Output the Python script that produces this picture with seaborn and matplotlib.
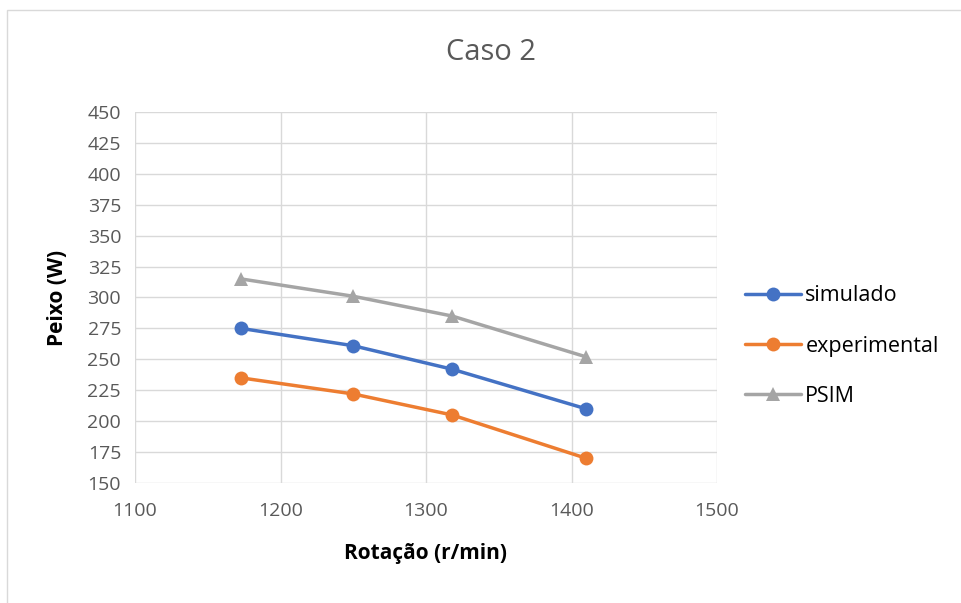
import matplotlib
matplotlib.use("Agg")
import matplotlib.pyplot as plt
import seaborn as sns
import pandas as pd
from matplotlib.patches import Rectangle

rotacao = [1173, 1250, 1318, 1410]
simulado = [275, 261, 242, 210]
experimental = [235, 222, 205, 170]
psim = [315, 301, 285, 252]
series_names = ["simulado", "experimental", "PSIM"]
colors = ["#4472C4", "#ED7D31", "#A5A5A5"]
x_ticks = [1100, 1200, 1300, 1400, 1500]
y_ticks = list(range(150, 451, 25))

sns.set_style("white")
plt.rcParams['font.family'] = ['Open Sans', 'DejaVu Sans']

df = pd.DataFrame({
    "x": rotacao * 3,
    "y": simulado + experimental + psim,
    "serie": [s for s in series_names for _ in rotacao],
})

fig = plt.figure(figsize=(9.62, 6.03), dpi=100)
fig.patches.append(Rectangle((7/962, -0.1), 1.0, 1 - 10/603 + 0.1, transform=fig.transFigure,
                             fill=False, edgecolor="#D9D9D9", linewidth=1))
ax = fig.add_axes([135/962, 1 - 483/603, (717 - 135)/962, (483 - 112)/603])

sns.lineplot(data=df, x="x", y="y", hue="serie", style="serie",
             hue_order=series_names, style_order=series_names,
             palette=colors, markers={"simulado": "o", "experimental": "o", "PSIM": "^"},
             dashes=False, linewidth=2.5, markersize=10, markeredgewidth=0,
             ax=ax, legend=True)

ax.set_xlim(1100, 1500)
ax.set_ylim(150, 450)
ax.set_xticks(x_ticks)
ax.set_yticks(y_ticks)
ax.grid(True, color="#D9D9D9", linewidth=1)
for s in ax.spines.values():
    s.set_visible(False)
ax.tick_params(axis="both", length=0, labelsize=14, labelcolor="#595959")
ax.tick_params(axis="x", pad=14)
ax.tick_params(axis="y", pad=10)

ax.set_xlabel("Rotação (r/min)", fontsize=15, fontweight="bold", color="black", labelpad=16)
ax.set_ylabel("Peixo (W)", fontsize=15, fontweight="bold", color="black", labelpad=14)
fig.text(491/962, 1 - 53/603, "Caso 2", ha="center", va="center", fontsize=21, color="#595959")

handles, labels = ax.get_legend_handles_labels()
ax.get_legend().remove()
leg = fig.legend(handles, labels, loc="center left", bbox_to_anchor=(745/962, 1 - 346/603),
                 frameon=False, fontsize=15.5, handlelength=2.6, labelspacing=1.35,
                 handletextpad=0.2, borderpad=0, borderaxespad=0)
for t in leg.get_texts():
    t.set_color("black")

fig.savefig("out.png", dpi=100)
